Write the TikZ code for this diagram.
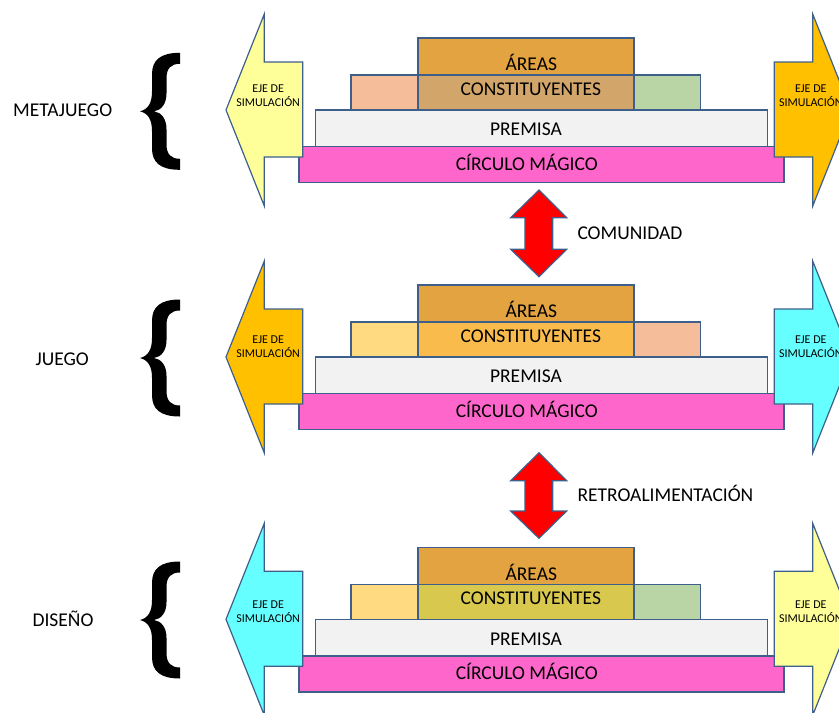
\documentclass[tikz,border=0pt]{standalone}
\usepackage{fontspec}
\setmainfont{Carlito}
\definecolor{edge}{HTML}{3E5F8A}
\definecolor{areasc}{HTML}{E2A340}
\definecolor{premc}{HTML}{F2F2F2}
\definecolor{circc}{HTML}{FF66CC}
\definecolor{paley}{HTML}{FFFF99}
\definecolor{goldc}{HTML}{FFC000}
\definecolor{cyanc}{HTML}{66FFFF}
\definecolor{peach}{HTML}{F5BD9A}
\definecolor{greenc}{HTML}{B9D5A5}
\definecolor{tanc}{HTML}{D2A66A}
\definecolor{lightgold}{HTML}{FFDA80}
\definecolor{orgold}{HTML}{F9BB4C}
\definecolor{olivec}{HTML}{D9C84E}
\definecolor{redc}{HTML}{FF0000}
\tikzset{
  box/.style={draw=edge, line width=1.2pt},
  ejearrow/.style={draw=edge, line width=1.2pt, line join=miter},
  bigtxt/.style={font=\fontsize{19.5}{22}\selectfont, inner sep=0pt, text=black},
  smalltxt/.style={font=\fontsize{12}{14}\selectfont, inner sep=0pt, text=black},
  bracefill/.style={fill=black, draw=none},
}
% #1 prefix, #2 base y, #3 left arrow, #4 right arrow, #5 const left, #6 const mid, #7 const right, #8 eje line-1 cap centre
\newcommand\drawsection[8]{%
  \path[box, fill=areasc] (418,#2) rectangle (634,#2+37);
  \path[box, fill=#5] (351,#2+37) rectangle (418,#2+72);
  \path[box, fill=#7] (634,#2+37) rectangle (700.7,#2+72);
  \path[box, fill=#6] (418,#2+37) rectangle (634,#2+72);
  \path[box, fill=premc] (315.7,#2+72) rectangle (767.7,#2+108.7);
  \path[box, fill=circc] (299,#2+108.7) rectangle (784,#2+144.7);
  \node[bigtxt, anchor=base] (#1-areas) at (531.3,#2+26.7+6.2) {ÁREAS};
  \node[bigtxt, anchor=base] (#1-const) at (530.8,#2+51.2+6.2) {CONSTITUYENTES};
  \node[bigtxt, anchor=base] (#1-prem) at (526,#2+91.7+6.2) {PREMISA};
  \node[bigtxt, anchor=base] (#1-circ) at (526.7,#2+126.2+6.2) {CÍRCULO MÁGICO};
  \path[ejearrow, fill=#3] (226,#2+72) -- (264.3,#2-24) -- (264.3,#2+24) -- (302.7,#2+24)
      -- (302.7,#2+119) -- (264.3,#2+119) -- (264.3,#2+168) -- cycle;
  \path[ejearrow, fill=#4] (851,#2+72) -- (812.7,#2-24) -- (812.7,#2+24) -- (774.3,#2+24)
      -- (774.3,#2+119) -- (812.7,#2+119) -- (812.7,#2+168) -- cycle;
  \node[smalltxt, anchor=base] (#1-ejeL1) at (268.2,#8+3.9) {EJE DE};
  \node[smalltxt, anchor=base] (#1-ejeL2) at (268.2,#8+17.9) {SIMULACIÓN};
  \node[smalltxt, anchor=base] (#1-ejeR1) at (810.8,#8+3.9) {EJE DE};
  \node[smalltxt, anchor=base] (#1-ejeR2) at (810.8,#8+17.9) {SIMULACIÓN};
}
% #1 centre y
\newcommand\drawbrace[1]{%
  \path[bracefill] (180,#1-58.5) .. controls (160,#1-58.5) and (152,#1-51) .. (152,#1-37)
     -- (152,#1-20) .. controls (152,#1-8) and (148,#1-2) .. (140,#1)
     .. controls (148,#1+2) and (152,#1+8) .. (152,#1+20)
     -- (152,#1+37) .. controls (152,#1+51) and (160,#1+58.5) .. (180,#1+58.5)
     -- (180,#1+47.5) .. controls (171,#1+47.5) and (166.5,#1+43) .. (166.5,#1+33)
     -- (166.5,#1+18) .. controls (166.5,#1+7) and (161,#1+1) .. (154,#1)
     .. controls (161,#1-1) and (166.5,#1-7) .. (166.5,#1-18)
     -- (166.5,#1-33) .. controls (166.5,#1-43) and (171,#1-47.5) .. (180,#1-47.5) -- cycle;
}
% #1 top tip, #2 head base, #3 lower head base, #4 bottom tip
\newcommand\drawredarrow[4]{%
  \path[ejearrow, fill=redc] (539,#1) -- (566.7,#2) -- (552.7,#2) -- (552.7,#3) -- (566.7,#3)
     -- (539,#4) -- (510.7,#3) -- (525,#3) -- (525,#2) -- (510.7,#2) -- cycle;
}
\begin{document}
\begin{tikzpicture}[x=1pt,y=-1pt]
  \useasboundingbox (0,0) rectangle (839,713);
  \clip (0,0) rectangle (839,713);
  \drawsection{t}{38}{paley}{goldc}{peach}{tanc}{greenc}{89}
  \drawsection{m}{285}{goldc}{cyanc}{lightgold}{orgold}{peach}{340}
  \drawsection{d}{547.3}{cyanc}{paley}{lightgold}{olivec}{greenc}{604.2}
  \drawbrace{111.3}
  \drawbrace{358}
  \drawbrace{620}
  \node[bigtxt, anchor=base] (meta) at (62.7,110+6.2) {METAJUEGO};
  \node[bigtxt, anchor=base] (juego) at (62.2,359.2+6.2) {JUEGO};
  \node[bigtxt, anchor=base] (diseno) at (63,619.8+6.2) {DISEÑO};
  \drawredarrow{190}{217.7}{249.3}{276.7}
  \drawredarrow{452.7}{480.7}{511}{538.3}
  \node[bigtxt, anchor=base west] (comunidad) at (577.3,233+6.2) {COMUNIDAD};
  \node[bigtxt, anchor=base west] (retro) at (577.3,495.2+6.2) {RETROALIMENTACIÓN};
\end{tikzpicture}
\end{document}
